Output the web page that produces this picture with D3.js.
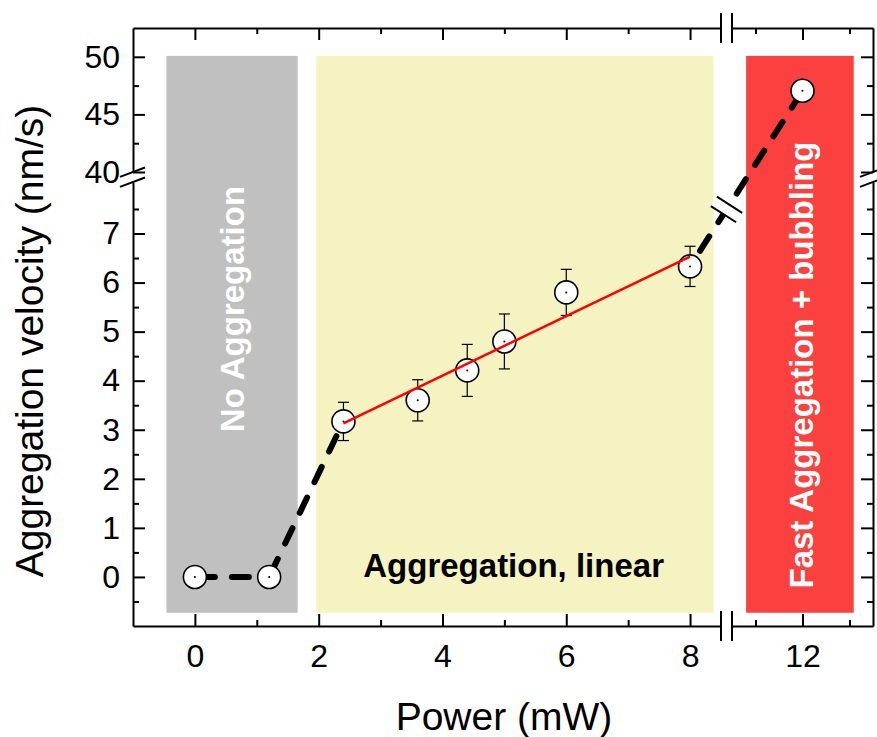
<!DOCTYPE html>
<html>
<head>
<meta charset="utf-8">
<script src="https://cdn.jsdelivr.net/npm/d3@7"></script>
<style>
    body { margin: 0; background: #fff; }
    text { font-family: "Liberation Sans", Arial, sans-serif; }
</style>
</head>
<body>
<script>
//measured points
var power = [0, 1.2, 2.4, 3.6, 4.4, 5, 6, 8, 12];
var velocity = [0, 0, 3.17, 3.6, 4.21, 4.8, 5.8, 6.33, 47.05];
var velocityErr = [0, 0, 0.39, 0.42, 0.53, 0.56, 0.47, 0.41, 0];

//linear fit over the middle regime
var fitPower = [2.4, 8];
var fitVelocity = [3.13, 6.53];

//dashed guide lines, as pairs of point indices
var guideRuns = [[0, 1], [1, 2], [8, 7]];

//shaded regimes
var regionNames = ["No Aggregation", "Aggregation, linear", "Fast Aggregation + bubbling"];
var regionStart = [-0.46, 1.96, 10.8];
var regionEnd = [1.66, 8.38, 13.09];
var regionLow = [-0.73, -0.73, -0.73];
var regionHigh = [50.08, 50.08, 50.08];

//tick values
var xMajorLeft = [0, 2, 4, 6, 8];
var xMinorLeft = [1, 3, 5, 7];
var xMajorRight = [12];
var xMinorRight = [11, 13];
var yMajorLow = [0, 1, 2, 3, 4, 5, 6, 7];
var yMinorLow = [-0.5, 0.5, 1.5, 2.5, 3.5, 4.5, 5.5, 6.5, 7.5];
var yMajorHigh = [40, 45, 50];
var yMinorHigh = [42.5, 47.5];

window.onload = setChart();

function setChart() {
    var width = 877,
        height = 737;

    var svg = d3.select("body")
        .append("svg")
        .attr("width", width)
        .attr("height", height);

    //broken axes: two scales per direction
    var xL = d3.scaleLinear().domain([-1, 8.5]).range([133, 721]);
    var xR = d3.scaleLinear().domain([10.5, 13.5]).range([732, 873]);
    var yLo = d3.scaleLinear().domain([-1, 8.05]).range([626, 182]);
    var yHi = d3.scaleLinear().domain([40, 52.5]).range([172, 28]);

    function px(v) { return v > 9.5 ? xR(v) : xL(v); }
    function py(v) { return v > 20 ? yHi(v) : yLo(v); }

    var left = xL.range()[0], right = xR.range()[1];
    var bottom = yLo.range()[0], top = yHi.range()[1];

    //regime backgrounds
    var regionColors = ["#c0c0c0", "#f4f3c1", "#fb4040"];
    svg.selectAll(".region")
        .data(regionNames)
        .enter()
        .append("rect")
        .attr("class", "region")
        .attr("x", function (d, i) { return px(regionStart[i]); })
        .attr("width", function (d, i) { return px(regionEnd[i]) - px(regionStart[i]); })
        .attr("y", function (d, i) { return py(regionHigh[i]); })
        .attr("height", function (d, i) { return py(regionLow[i]) - py(regionHigh[i]); })
        .style("fill", function (d, i) { return regionColors[i]; });

    //regime labels
    var fs = 33;
    svg.append("text")
        .attr("transform", "translate(" + (px(0.6) + fs * 0.358) + "," + py(5.46) + ") rotate(-90)")
        .attr("text-anchor", "middle")
        .style("font-size", fs + "px")
        .style("font-weight", "bold")
        .style("fill", "#fff")
        .text(regionNames[0]);

    svg.append("text")
        .attr("x", px(5.15))
        .attr("y", py(0))
        .attr("text-anchor", "middle")
        .style("font-size", fs + "px")
        .style("font-weight", "bold")
        .style("fill", "#000")
        .text(regionNames[1]);

    svg.append("text")
        .attr("transform", "translate(" + (px(11.97) + fs * 0.358) + "," + py(4.32) + ") rotate(-90)")
        .attr("text-anchor", "middle")
        .style("font-size", fs + "px")
        .style("font-weight", "bold")
        .style("fill", "#fff")
        .text(regionNames[2]);

    //axes
    function addAxis(axis, scale, major, minor, labels, x, y, pad) {
        var g = svg.append("g")
            .attr("transform", "translate(" + x + "," + y + ")")
            .call(axis(scale).tickValues(major).tickSize(-12).tickSizeOuter(0)
                .tickPadding(pad)
                .tickFormat(labels ? d3.format("d") : ""));
        var m = svg.append("g")
            .attr("transform", "translate(" + x + "," + y + ")")
            .call(axis(scale).tickValues(minor).tickSize(-6).tickSizeOuter(0).tickFormat(""));
        m.select(".domain").remove();
        [g, m].forEach(function (s) {
            s.attr("font-family", null).attr("font-size", null);
            s.selectAll("line, path").style("stroke", "#000").style("stroke-width", 2);
            s.selectAll("text").style("font-size", "32px").style("fill", "#000");
        });
    }

    addAxis(d3.axisBottom, xL, xMajorLeft, xMinorLeft, true, 0, bottom, 18);
    addAxis(d3.axisBottom, xR, xMajorRight, xMinorRight, true, 0, bottom, 18);
    addAxis(d3.axisTop, xL, xMajorLeft, xMinorLeft, false, 0, top, 0);
    addAxis(d3.axisTop, xR, xMajorRight, xMinorRight, false, 0, top, 0);
    addAxis(d3.axisLeft, yLo, yMajorLow, yMinorLow, true, left, 0, 13);
    addAxis(d3.axisLeft, yHi, yMajorHigh, yMinorHigh, true, left, 0, 13);
    addAxis(d3.axisRight, yLo, yMajorLow, yMinorLow, false, right, 0, 0);
    addAxis(d3.axisRight, yHi, yMajorHigh, yMinorHigh, false, right, 0, 0);

    //break marks on the axes
    var breaks = svg.append("g").style("stroke", "#000").style("stroke-width", 2);
    [xL.range()[1], xR.range()[0]].forEach(function (bx) {
        [bottom, top].forEach(function (by) {
            breaks.append("line")
                .attr("x1", bx).attr("x2", bx)
                .attr("y1", by - 15).attr("y2", by + 15);
        });
    });
    [yHi.range()[0], yLo.range()[1]].forEach(function (by) {
        [left, right].forEach(function (bx) {
            breaks.append("line")
                .attr("x1", bx - 13).attr("y1", by + 13 * 0.376)
                .attr("x2", bx + 12).attr("y2", by - 12 * 0.376);
        });
    });

    //error bars
    var errIdx = d3.range(power.length).filter(function (i) { return velocityErr[i] > 0; });
    var err = svg.append("g").style("stroke", "#000").style("stroke-width", 1.2);
    errIdx.forEach(function (i) {
        var cx = px(power[i]);
        var y1 = py(velocity[i] + velocityErr[i]), y2 = py(velocity[i] - velocityErr[i]);
        err.append("line").attr("x1", cx).attr("x2", cx).attr("y1", y1).attr("y2", y2);
        err.append("line").attr("x1", cx - 5.5).attr("x2", cx + 5.5).attr("y1", y1).attr("y2", y1);
        err.append("line").attr("x1", cx - 5.5).attr("x2", cx + 5.5).attr("y1", y2).attr("y2", y2);
    });

    //dashed guide lines
    var guide = d3.line()
        .x(function (i) { return px(power[i]); })
        .y(function (i) { return py(velocity[i]); });
    svg.selectAll(".guide")
        .data(guideRuns)
        .enter()
        .append("path")
        .attr("class", "guide")
        .attr("d", guide)
        .style("fill", "none")
        .style("stroke", "#000")
        .style("stroke-width", 6)
        .style("stroke-linecap", "round")
        .style("stroke-dasharray", "17,17")
        .style("stroke-dashoffset", -3);

    //break mark on the guide line crossing the gap
    var p0 = [px(power[7]), py(velocity[7])],
        p1 = [px(power[8]), py(velocity[8])];
    var bxm = (xL.range()[1] + xR.range()[0]) / 2;
    var t = (bxm - p0[0]) / (p1[0] - p0[0]);
    var bym = p0[1] + t * (p1[1] - p0[1]);
    var len = Math.hypot(p1[0] - p0[0], p1[1] - p0[1]);
    var u = [(p1[0] - p0[0]) / len, (p1[1] - p0[1]) / len];
    var n = [-u[1], u[0]];
    var h = 5.6, w = 15;
    svg.append("polygon")
        .attr("points", [
            [bxm - u[0] * h - n[0] * w, bym - u[1] * h - n[1] * w],
            [bxm - u[0] * h + n[0] * w, bym - u[1] * h + n[1] * w],
            [bxm + u[0] * h + n[0] * w, bym + u[1] * h + n[1] * w],
            [bxm + u[0] * h - n[0] * w, bym + u[1] * h - n[1] * w]
        ].map(function (p) { return p.join(","); }).join(" "))
        .style("fill", "#fff");
    [-h, h].forEach(function (s) {
        svg.append("line")
            .attr("x1", bxm + u[0] * s - n[0] * w).attr("y1", bym + u[1] * s - n[1] * w)
            .attr("x2", bxm + u[0] * s + n[0] * w).attr("y2", bym + u[1] * s + n[1] * w)
            .style("stroke", "#000")
            .style("stroke-width", 2);
    });

    //markers
    var marks = svg.selectAll(".mark")
        .data(power)
        .enter()
        .append("g")
        .attr("class", "mark")
        .attr("transform", function (d, i) { return "translate(" + px(d) + "," + py(velocity[i]) + ")"; });
    marks.append("circle")
        .attr("r", 11.5)
        .style("fill", "#fff")
        .style("stroke", "#000")
        .style("stroke-width", 1.6);
    marks.append("circle")
        .attr("r", 1)
        .style("fill", "#000");

    //linear fit
    svg.append("path")
        .datum(fitPower)
        .attr("d", d3.line()
            .x(function (d) { return px(d); })
            .y(function (d, i) { return py(fitVelocity[i]); }))
        .style("fill", "none")
        .style("stroke", "#ff0000")
        .style("stroke-width", 2.5);

    //axis titles
    svg.append("text")
        .attr("x", (left + right) / 2 + 1)
        .attr("y", 730)
        .attr("text-anchor", "middle")
        .style("font-size", "39px")
        .text("Power (mW)");

    svg.append("text")
        .attr("transform", "translate(43," + 341 + ") rotate(-90)")
        .attr("text-anchor", "middle")
        .style("font-size", "39px")
        .text("Aggregation velocity (nm/s)");
}
</script>
</body>
</html>
